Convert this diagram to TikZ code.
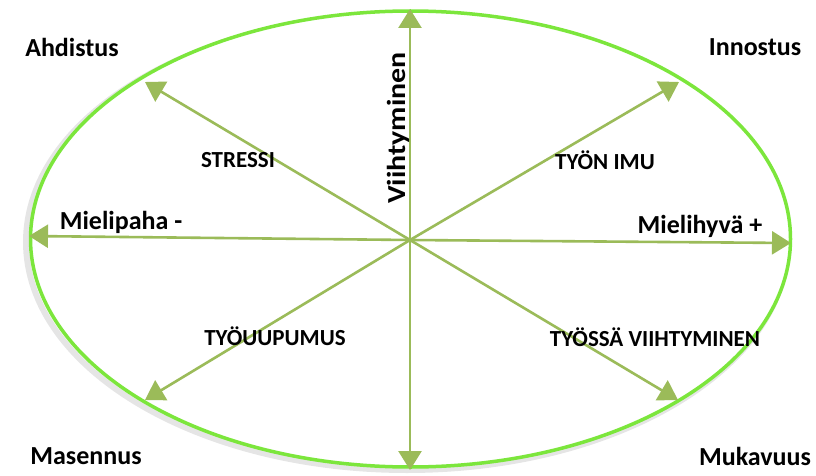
\documentclass[tikz,border=0pt]{standalone}
\usepackage{fontspec}
\setmainfont{Carlito}
\usetikzlibrary{arrows.meta}
\definecolor{rim}{RGB}{124,230,60}
\definecolor{olive}{RGB}{155,187,89}

\begin{document}
\begin{tikzpicture}[x=1pt,y=1pt,
    axis/.style={olive,line width=2.6pt,-{Triangle[length=19pt,width=23pt]}},
    big/.style={font=\fontsize{26}{30}\selectfont\bfseries},
    small/.style={font=\fontsize{23}{26}\selectfont\bfseries}]
  \useasboundingbox (0,0) rectangle (816,475);
  % ellipse with a soft shadow
  \draw[black!20,line width=6pt,opacity=0.5] (407,233) ellipse (381 and 228);
  \draw[rim,line width=3.5pt,fill=white] (410.5,236) ellipse (380 and 228);
  \coordinate (O) at (410,235);
  \coordinate (N) at (410,466);
  \coordinate (S) at (410,5);
  \coordinate (W) at (29,239);
  \coordinate (E) at (791,232);
  \coordinate (NW) at (145,393);
  \coordinate (NE) at (679,393);
  \coordinate (SW) at (145,75);
  \coordinate (SE) at (678,75);
  \foreach \t in {N,S,W,E,NW,NE,SW,SE}
    \draw[axis] (O) -- (\t);
  % corners
  \node[big] (ahd) at (72,428) {Ahdistus};
  \node[big] (inn) at (755,428) {Innostus};
  \node[big] (mas) at (86,19) {Masennus};
  \node[big] (muk) at (755,19) {Mukavuus};
  % axis labels
  \node[big] (paha) at (121,253) {Mielipaha -};
  \node[big] (hyva) at (700,249) {Mielihyvä +};
  \node[big,rotate=90] (viih) at (398,347) {\scalebox{1.15}[1]{Viihtyminen}};
  % states
  \node[small] (str) at (238,315) {STRESSI};
  \node[small] (imu) at (605,315) {TYÖN IMU};
  \node[small] (uup) at (275,139) {TYÖUUPUMUS};
  \node[small] (tyo) at (655,138) {TYÖSSÄ VIIHTYMINEN};
\end{tikzpicture}
\end{document}
